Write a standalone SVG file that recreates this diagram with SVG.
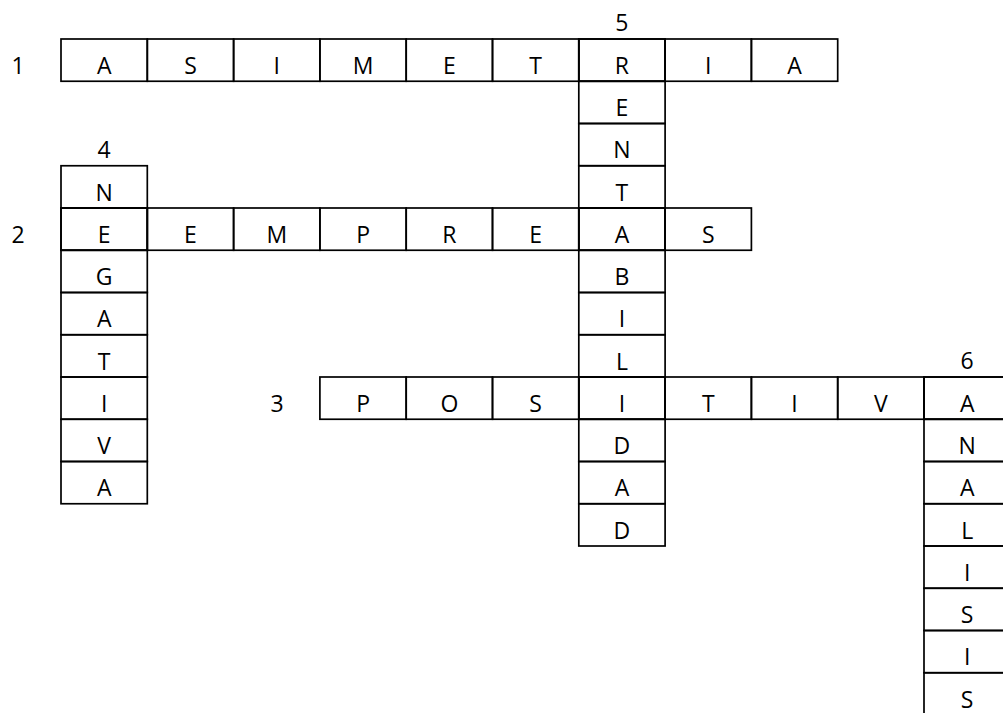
<svg xmlns="http://www.w3.org/2000/svg" width="1003" height="713" viewBox="0 0 1003 713">
<style>
.c{fill:none;stroke:#000;stroke-width:1.7}
text{font-family:"Open Sans","Liberation Sans",sans-serif;font-size:23px;fill:#000;text-anchor:middle}
</style>
<rect width="1003" height="713" fill="#fff"/>
<g id="w1">
<rect class="c" x="61" y="39" width="86.3" height="42.25"/><rect class="c" x="147.3" y="39" width="86.3" height="42.25"/><rect class="c" x="233.6" y="39" width="86.3" height="42.25"/><rect class="c" x="319.9" y="39" width="86.3" height="42.25"/><rect class="c" x="406.2" y="39" width="86.3" height="42.25"/><rect class="c" x="492.5" y="39" width="86.3" height="42.25"/><rect class="c" x="578.8" y="39" width="86.3" height="42.25"/><rect class="c" x="665.1" y="39" width="86.3" height="42.25"/><rect class="c" x="751.4" y="39" width="86.3" height="42.25"/>
<text x="18" y="73.75">1</text>
<text x="104.15" y="73.75">A</text><text x="190.45" y="73.75">S</text><text x="276.75" y="73.75">I</text><text x="363.05" y="73.75">M</text><text x="449.35" y="73.75">E</text><text x="535.65" y="73.75">T</text><text x="621.95" y="73.75">R</text><text x="708.25" y="73.75">I</text><text x="794.55" y="73.75">A</text>
</g>
<g id="w2">
<rect class="c" x="61" y="208" width="86.3" height="42.25"/><rect class="c" x="147.3" y="208" width="86.3" height="42.25"/><rect class="c" x="233.6" y="208" width="86.3" height="42.25"/><rect class="c" x="319.9" y="208" width="86.3" height="42.25"/><rect class="c" x="406.2" y="208" width="86.3" height="42.25"/><rect class="c" x="492.5" y="208" width="86.3" height="42.25"/><rect class="c" x="578.8" y="208" width="86.3" height="42.25"/><rect class="c" x="665.1" y="208" width="86.3" height="42.25"/>
<text x="18" y="242.75">2</text>
<text x="104.15" y="242.75">E</text><text x="190.45" y="242.75">E</text><text x="276.75" y="242.75">M</text><text x="363.05" y="242.75">P</text><text x="449.35" y="242.75">R</text><text x="535.65" y="242.75">E</text><text x="621.95" y="242.75">A</text><text x="708.25" y="242.75">S</text>
</g>
<g id="w3">
<rect class="c" x="319.9" y="377" width="86.3" height="42.25"/><rect class="c" x="406.2" y="377" width="86.3" height="42.25"/><rect class="c" x="492.5" y="377" width="86.3" height="42.25"/><rect class="c" x="578.8" y="377" width="86.3" height="42.25"/><rect class="c" x="665.1" y="377" width="86.3" height="42.25"/><rect class="c" x="751.4" y="377" width="86.3" height="42.25"/><rect class="c" x="837.7" y="377" width="86.3" height="42.25"/><rect class="c" x="924" y="377" width="86.3" height="42.25"/>
<text x="277" y="411.75">3</text>
<text x="363.05" y="411.75">P</text><text x="449.35" y="411.75">O</text><text x="535.65" y="411.75">S</text><text x="621.95" y="411.75">I</text><text x="708.25" y="411.75">T</text><text x="794.55" y="411.75">I</text><text x="880.85" y="411.75">V</text><text x="967.15" y="411.75">A</text>
</g>
<g id="w4">
<rect class="c" x="61" y="165.75" width="86.3" height="42.25"/><rect class="c" x="61" y="208" width="86.3" height="42.25"/><rect class="c" x="61" y="250.25" width="86.3" height="42.25"/><rect class="c" x="61" y="292.5" width="86.3" height="42.25"/><rect class="c" x="61" y="334.75" width="86.3" height="42.25"/><rect class="c" x="61" y="377" width="86.3" height="42.25"/><rect class="c" x="61" y="419.25" width="86.3" height="42.25"/><rect class="c" x="61" y="461.5" width="86.3" height="42.25"/>
<text x="104.15" y="157.5">4</text>
<text x="104.15" y="200.5">N</text><text x="104.15" y="285">G</text><text x="104.15" y="327.25">A</text><text x="104.15" y="369.5">T</text><text x="104.15" y="411.75">I</text><text x="104.15" y="454">V</text><text x="104.15" y="496.25">A</text>
</g>
<g id="w5">
<rect class="c" x="578.8" y="39" width="86.3" height="42.25"/><rect class="c" x="578.8" y="81.25" width="86.3" height="42.25"/><rect class="c" x="578.8" y="123.5" width="86.3" height="42.25"/><rect class="c" x="578.8" y="165.75" width="86.3" height="42.25"/><rect class="c" x="578.8" y="208" width="86.3" height="42.25"/><rect class="c" x="578.8" y="250.25" width="86.3" height="42.25"/><rect class="c" x="578.8" y="292.5" width="86.3" height="42.25"/><rect class="c" x="578.8" y="334.75" width="86.3" height="42.25"/><rect class="c" x="578.8" y="377" width="86.3" height="42.25"/><rect class="c" x="578.8" y="419.25" width="86.3" height="42.25"/><rect class="c" x="578.8" y="461.5" width="86.3" height="42.25"/><rect class="c" x="578.8" y="503.75" width="86.3" height="42.25"/>
<text x="621.95" y="30.5">5</text>
<text x="621.95" y="116">E</text><text x="621.95" y="158.25">N</text><text x="621.95" y="200.5">T</text><text x="621.95" y="285">B</text><text x="621.95" y="327.25">I</text><text x="621.95" y="369.5">L</text><text x="621.95" y="454">D</text><text x="621.95" y="496.25">A</text><text x="621.95" y="538.5">D</text>
</g>
<g id="w6">
<rect class="c" x="924" y="377" width="86.3" height="42.25"/><rect class="c" x="924" y="419.25" width="86.3" height="42.25"/><rect class="c" x="924" y="461.5" width="86.3" height="42.25"/><rect class="c" x="924" y="503.75" width="86.3" height="42.25"/><rect class="c" x="924" y="546" width="86.3" height="42.25"/><rect class="c" x="924" y="588.25" width="86.3" height="42.25"/><rect class="c" x="924" y="630.5" width="86.3" height="42.25"/><rect class="c" x="924" y="672.75" width="86.3" height="42.25"/>
<text x="967.15" y="369">6</text>
<text x="967.15" y="454">N</text><text x="967.15" y="496.25">A</text><text x="967.15" y="538.5">L</text><text x="967.15" y="580.75">I</text><text x="967.15" y="623">S</text><text x="967.15" y="665.25">I</text><text x="967.15" y="707.5">S</text>
</g>
<g id="connectors"/>
</svg>
